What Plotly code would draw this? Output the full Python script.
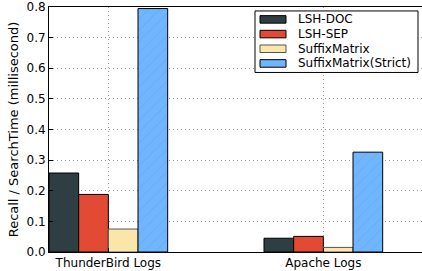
import plotly.graph_objects as go

categories = ["ThunderBird Logs", "Apache Logs"]
series_names = ["LSH-DOC", "LSH-SEP", "SuffixMatrix", "SuffixMatrix(Strict)"]
lsh_doc = [0.258, 0.045]
lsh_sep = [0.188, 0.051]
suffix_matrix = [0.075, 0.015]
suffix_strict = [0.795, 0.326]
y_ticks = [0.0, 0.1, 0.2, 0.3, 0.4, 0.5, 0.6, 0.7, 0.8]

series_values = [lsh_doc, lsh_sep, suffix_matrix, suffix_strict]
colors = ["#2F3E42", "#E24A33", "#FBE6A9", "#70B5FF"]
edges = ["#000000", "#000000", "#555555", "#000000"]
patterns = ["", "", "", "/"]
w = 0.138
xs = list(range(len(categories)))

# plot area in pixels
L, R, T, B = 49, 422, 5, 252
def px(x):
    return (x - L) / (R - L)
def py(y):
    return (B - y) / (B - T)

fig = go.Figure()
for k, (name, vals) in enumerate(zip(series_names, series_values)):
    fig.add_trace(go.Bar(
        x=xs, y=vals, name=name, width=w, offset=k * w, showlegend=False,
        marker=dict(color=colors[k], line=dict(color=edges[k], width=1),
                    pattern=dict(shape=patterns[k], fgcolor="#5A9BE0", size=8, solidity=0.1)),
    ))

# manual legend (matplotlib style)
shapes = [dict(type="rect", xref="paper", yref="paper",
               x0=px(255), x1=px(418), y0=py(71), y1=py(9),
               line=dict(color="black", width=1), fillcolor="white", layer="above")]
annotations = []
for k, name in enumerate(series_names):
    cy = 17.5 + 14.8 * k
    shapes.append(dict(type="rect", xref="paper", yref="paper",
                       x0=px(260), x1=px(286), y0=py(cy + 3.8), y1=py(cy - 3.8),
                       line=dict(color=edges[k], width=1), fillcolor=colors[k], layer="above"))
    annotations.append(dict(xref="paper", yref="paper", x=px(296), y=py(cy),
                            xanchor="left", yanchor="middle", text=name, showarrow=False,
                            font=dict(size=12, color="black")))

fig.update_layout(
    width=422, height=271,
    margin=dict(l=L, r=422 - R, t=T, b=271 - B),
    plot_bgcolor="white", paper_bgcolor="white",
    font=dict(family="DejaVu Sans", size=12, color="black"),
    barmode="overlay",
    showlegend=False,
    shapes=shapes, annotations=annotations,
    xaxis=dict(range=[0, (R - L) / 215], tickvals=[i + 2 * w for i in xs], ticktext=categories,
               showgrid=True, gridcolor="#999999", griddash="1px,3px", gridwidth=1,
               showline=True, linecolor="black", linewidth=1, mirror=True,
               ticks="inside", ticklen=4, tickcolor="black", zeroline=False,
               tickfont=dict(size=12)),
    yaxis=dict(range=[0, 0.8001], tickvals=y_ticks, tickformat=".1f",
               ticklabeloverflow="allow",
               showgrid=True, gridcolor="#999999", griddash="1px,3px", gridwidth=1,
               showline=True, linecolor="black", linewidth=1, mirror=False,
               ticks="inside", ticklen=4, tickcolor="black", zeroline=False,
               title=dict(text="Recall / SearchTime (millisecond)", font=dict(size=13), standoff=4),
               tickfont=dict(size=12)),
)

fig.write_html("out.html", config={"displayModeBar": False},
               post_script="document.body.style.margin='0';document.body.style.overflow='hidden';")
